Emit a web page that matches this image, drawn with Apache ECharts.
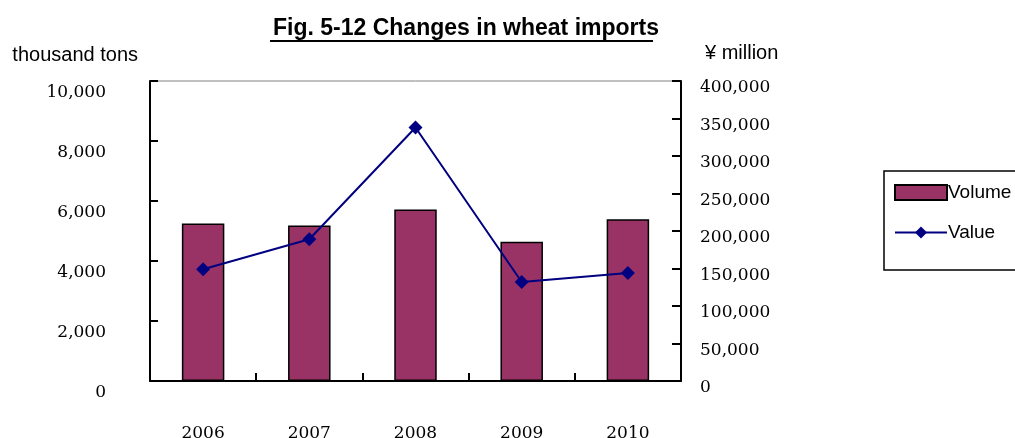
<!DOCTYPE html>
<html>
<head>
<meta charset="utf-8">
<script src="https://cdn.jsdelivr.net/npm/echarts@6/dist/echarts.min.js"></script>
<style>
html,body{margin:0;padding:0;background:#fff;}
#c{width:1015px;height:438px;}
</style>
</head>
<body>
<div id="c"></div>
<script>
const titleText = 'Fig. 5-12 Changes in wheat imports';
const categories = ['2006', '2007', '2008', '2009', '2010'];
const volumeName = 'Volume';
const valueName = 'Value';
const volumeData = [5250, 5180, 5720, 4640, 5390];
const valueData = [149000, 189000, 338000, 132000, 144000];
const leftAxisName = 'thousand tons';
const rightAxisName = '¥ million';

const fmt = v => Number(v).toLocaleString('en-US');
const serif = 'DejaVu Serif';
const sans = 'Liberation Sans, Arial, sans-serif';

const chart = echarts.init(document.getElementById('c'), null, {renderer: 'canvas'});
chart.setOption({
  animation: false,
  backgroundColor: '#fff',
  title: {
    text: titleText,
    left: 461, top: 12, textAlign: 'center',
    textStyle: {fontFamily: sans, fontSize: 23, fontWeight: 'bold', color: '#000'}
  },
  graphic: [{
    type: 'rect', left: 270, top: 40, shape: {width: 383, height: 2},
    style: {fill: '#000'}, silent: true
  }],
  legend: {
    orient: 'vertical',
    left: 884, top: 171,
    padding: [12, 200, 28, 10],
    itemWidth: 52, itemHeight: 15, itemGap: 21,
    borderColor: '#000', borderWidth: 1.5,
    textStyle: {fontFamily: sans, fontSize: 19, color: '#000', padding: [0, 0, 0, -4]},
    data: [{name: volumeName, icon: 'rect'}, {name: valueName}]
  },
  grid: {
    left: 150, right: 334, top: 81, bottom: 57,
    outerBoundsMode: 'none', containLabel: false,
    show: true, borderColor: '#808080', borderWidth: 1
  },
  xAxis: {
    type: 'category',
    data: categories,
    boundaryGap: true,
    axisLine: {lineStyle: {color: '#000', width: 2}},
    axisTick: {show: true, inside: true, length: 8, lineStyle: {color: '#000', width: 2}},
    axisLabel: {margin: 44, fontFamily: serif, fontSize: 17, color: '#000'},
    splitLine: {show: false}
  },
  yAxis: [{
    type: 'value', position: 'left',
    min: 0, max: 10000, interval: 2000,
    name: leftAxisName, nameLocation: 'end', nameGap: 16,
    nameTextStyle: {fontFamily: sans, fontSize: 20, color: '#000', align: 'right', padding: [0, 12, 0, 0]},
    axisLine: {show: true, lineStyle: {color: '#000', width: 2}},
    axisTick: {show: true, inside: true, length: 8, lineStyle: {color: '#000', width: 2}},
    axisLabel: {margin: 44, fontFamily: serif, fontSize: 17, color: '#000', verticalAlign: 'top', lineHeight: 23, formatter: fmt},
    splitLine: {show: false}
  }, {
    type: 'value', position: 'right',
    min: 0, max: 400000, interval: 50000,
    name: rightAxisName, nameLocation: 'end', nameGap: 18,
    nameTextStyle: {fontFamily: sans, fontSize: 20, color: '#000', align: 'left', padding: [0, 0, 0, 24]},
    axisLine: {show: true, lineStyle: {color: '#000', width: 2}},
    axisTick: {show: true, inside: true, length: 9, lineStyle: {color: '#000', width: 2}},
    axisLabel: {margin: 19, fontFamily: serif, fontSize: 17, color: '#000', verticalAlign: 'top', lineHeight: 14, formatter: fmt},
    splitLine: {show: false}
  }],
  series: [{
    name: volumeName,
    type: 'bar',
    yAxisIndex: 0,
    data: volumeData,
    barWidth: '40%',
    itemStyle: {color: '#993366', borderColor: '#000', borderWidth: 1.5}
  }, {
    name: valueName,
    type: 'line',
    yAxisIndex: 1,
    data: valueData,
    symbol: 'diamond',
    symbolSize: 14,
    lineStyle: {color: '#000080', width: 2},
    itemStyle: {color: '#000080'}
  }]
});
</script>
</body>
</html>
